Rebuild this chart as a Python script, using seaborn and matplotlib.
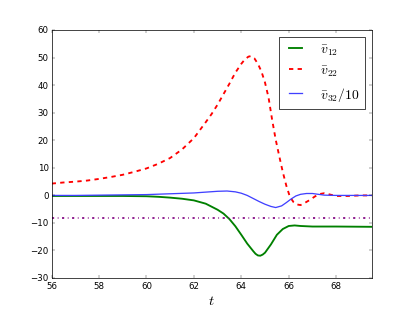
import matplotlib
matplotlib.use("Agg")
import matplotlib.pyplot as plt
import seaborn as sns

# values
t_v12 = [56, 57, 58, 59, 60, 60.5, 61, 61.5, 62, 62.5, 63, 63.25, 63.5, 63.75,
         64, 64.25, 64.5, 64.6, 64.7, 64.8, 64.9, 65, 65.25, 65.5, 65.75, 66, 66.25,
         66.5, 67, 68, 69.5]
v12 = [-0.2, -0.2, -0.2, -0.2, -0.3, -0.5, -0.8, -1.2, -1.8, -3.0, -5.2, -6.6, -8.6, -11.2,
       -14.3, -17.5, -20.2, -21.2, -21.8, -21.9, -21.5, -20.8, -17.8, -14.3, -12.2, -11.1,
       -10.9, -11.1, -11.3, -11.3, -11.4]

t_v22 = [56, 56.5, 57, 57.5, 58, 58.5, 59, 59.5, 60, 60.5, 61, 61.5, 62, 62.25, 62.5,
         62.75, 63, 63.25, 63.5, 63.75, 64, 64.15, 64.3, 64.4, 64.55, 64.7, 64.85, 65,
         65.15, 65.3, 65.45, 65.6, 65.75, 65.9, 66.05, 66.2, 66.35, 66.5, 66.7, 66.9,
         67.1, 67.3, 67.5, 67.75, 68, 68.5, 69, 69.5]
v22 = [4.3, 4.7, 5.0, 5.4, 6.0, 6.7, 7.5, 8.6, 9.8, 11.5, 13.6, 16.7, 20.8, 23.7, 26.6,
       29.6, 33.0, 36.8, 40.6, 44.6, 47.8, 49.4, 50.4, 50.6, 49.8, 47.8, 45.0, 41.0,
       35.5, 27.5, 20.3, 14.3, 8.5, 3.5, -0.5, -2.4, -3.3, -3.5, -2.6, -1.6,
       -0.4, 0.5, 0.8, 0.3, -0.2, -0.2, 0.0, 0.0]

t_v32 = [56, 57, 58, 59, 60, 61, 62, 62.5, 63, 63.4, 63.75, 64, 64.25, 64.5, 64.75, 65,
         65.25, 65.45, 65.7, 65.9, 66.1, 66.3, 66.5, 66.75, 67, 67.25, 67.5, 68, 69.5]
v32_div10 = [0.0, 0.0, 0.1, 0.2, 0.3, 0.6, 0.9, 1.2, 1.5, 1.6, 1.3, 0.8, 0.0, -1.1, -2.2, -3.2,
             -4.0, -4.4, -3.8, -2.6, -1.3, -0.2, 0.4, 0.7, 0.7, 0.4, 0.1, 0.0, 0.0]

level = -8.3
labels = [r"$\bar{v}_{12}$", r"$\bar{v}_{22}$", r"$\bar{v}_{32}/10$"]

plt.style.use("classic")
fig, ax = plt.subplots(figsize=(8, 6), dpi=51.625)
fig.patch.set_facecolor("white")

sns.lineplot(x=t_v12, y=v12, ax=ax, color="g", linewidth=2.6, legend=False, sort=False)
sns.lineplot(x=t_v22, y=v22, ax=ax, color="r", linewidth=2.6, linestyle="--", legend=False, sort=False)
sns.lineplot(x=t_v32, y=v32_div10, ax=ax, color="#4040ff", linewidth=1.8, legend=False, sort=False)
ax.axhline(level, color="purple", linewidth=2.4, linestyle="-.")

ax.set_xlim(56, 69.5)
ax.set_ylim(-30, 60)
ax.set_xticks([56, 58, 60, 62, 64, 66, 68])
ax.set_xlabel(r"$t$", fontsize=20)
ax.set_ylabel("")
lines = ax.get_lines()[:3]
ax.legend(lines, labels, loc="upper right", fontsize=19, handlelength=1.6, handletextpad=1.0)

fig.savefig("out.png", dpi=51.625, facecolor="white")
